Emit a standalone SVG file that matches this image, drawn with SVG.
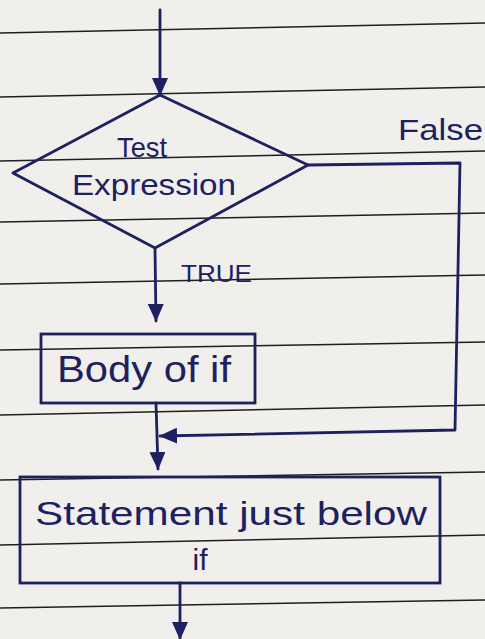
<svg xmlns="http://www.w3.org/2000/svg" width="485" height="639" viewBox="0 0 485 639">
<style>
.rule{stroke:#1e1e22;stroke-width:1.6;fill:none}
.ink{stroke:#1d2160;stroke-width:2.8;fill:none;stroke-linejoin:round;stroke-linecap:round}
.box{stroke:#1d2160;stroke-width:2.8;fill:none}
.t{font-family:"Liberation Sans","DejaVu Sans",sans-serif;fill:#1d2160}
</style>
<defs>
<marker id="ah" viewBox="0 0 18 16" refX="17" refY="8" markerWidth="18" markerHeight="16" markerUnits="userSpaceOnUse" orient="auto">
<path d="M0,0 L18,8 L0,16 Z" fill="#1d2160"/>
</marker>
</defs>
<rect width="485" height="639" fill="#f1efec"/>
<g id="paper">
<line class="rule" x1="0" y1="33" x2="485" y2="23"/>
<line class="rule" x1="0" y1="97" x2="485" y2="87"/>
<line class="rule" x1="0" y1="161" x2="485" y2="151"/>
<line class="rule" x1="0" y1="222" x2="485" y2="213"/>
<line class="rule" x1="0" y1="284" x2="485" y2="275"/>
<line class="rule" x1="0" y1="350" x2="485" y2="342"/>
<line class="rule" x1="0" y1="415" x2="485" y2="405"/>
<line class="rule" x1="0" y1="480" x2="485" y2="472"/>
<line class="rule" x1="0" y1="545" x2="485" y2="535"/>
<line class="rule" x1="0" y1="608" x2="485" y2="600"/>
</g>
<g id="connectors">
<line class="ink" x1="160" y1="10" x2="160" y2="95" marker-end="url(#ah)"/>
<line class="ink" x1="155" y1="248" x2="156" y2="321" marker-end="url(#ah)"/>
<polyline class="ink" points="308,165 460,163 455,430 160,436" marker-end="url(#ah)"/>
<line class="ink" x1="156" y1="403" x2="158" y2="469" marker-end="url(#ah)"/>
<line class="ink" x1="180" y1="583" x2="180" y2="639" marker-end="url(#ah)"/>
<text class="t" x="181" y="282" font-size="24" textLength="71" lengthAdjust="spacingAndGlyphs">TRUE</text>
<text class="t" x="398" y="140" font-size="30" textLength="85" lengthAdjust="spacingAndGlyphs">False</text>
</g>
<g id="test">
<polygon class="ink" points="160,95 308,165 155,248 13,173"/>
<text class="t" x="117" y="157" font-size="28" textLength="50" lengthAdjust="spacingAndGlyphs">Test</text>
<text class="t" x="72" y="195" font-size="30" textLength="164" lengthAdjust="spacingAndGlyphs">Expression</text>
</g>
<g id="body">
<rect class="box" x="41" y="334" width="214" height="69"/>
<text class="t" x="57" y="382" font-size="36" textLength="174" lengthAdjust="spacingAndGlyphs">Body of if</text>
</g>
<g id="statement">
<rect class="box" x="20" y="477" width="420" height="106"/>
<text class="t" x="35" y="525" font-size="34" textLength="392" lengthAdjust="spacingAndGlyphs">Statement just below</text>
<text class="t" x="200" y="570" font-size="30" text-anchor="middle">if</text>
</g>
</svg>
